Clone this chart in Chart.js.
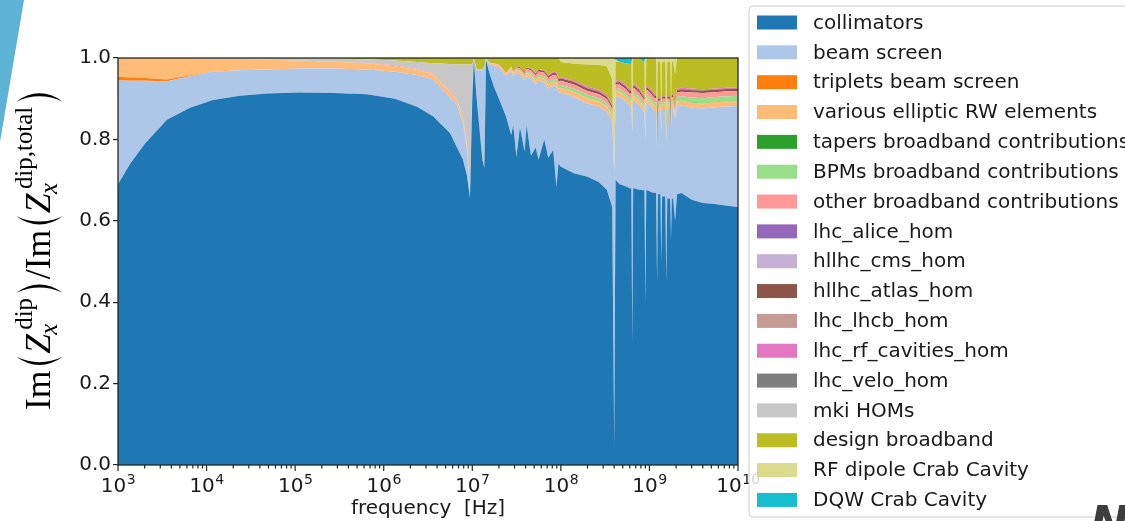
<!DOCTYPE html>
<html>
<head>
<meta charset="utf-8">
<script src="https://cdn.jsdelivr.net/npm/chart.js@4.4.1/dist/chart.umd.min.js"></script>
<style>
  html, body { margin: 0; padding: 0; background: #ffffff; overflow: hidden; }
  canvas { display: block; }
</style>
</head>
<body>
<canvas id="c" width="1125" height="521"></canvas>
<script>
// Frequency samples [Hz]
const freqHz = [
  1.00e3, 1.37e3, 2.02e3, 3.57e3, 6.50e3, 1.18e4, 2.38e4, 4.81e4, 1.13e5, 2.68e5, 6.48e5, 1.34e6, 2.38e6, 3.60e6, 5.60e6, 6.72e6, 7.86e6, 8.72e6, 9.42e6,
  1.00e7, 1.04e7, 1.12e7, 1.30e7, 1.37e7, 1.43e7, 1.55e7, 1.75e7, 2.00e7, 2.40e7, 2.75e7, 2.90e7, 3.15e7, 3.45e7, 3.90e7, 4.10e7, 4.60e7, 5.20e7, 5.60e7, 6.50e7, 7.20e7, 8.20e7, 8.90e7, 9.40e7,
  1.00e8, 1.40e8, 2.00e8, 2.70e8, 3.30e8, 3.80e8, 4.00e8, 4.15e8, 4.60e8, 5.40e8, 6.00e8, 6.25e8, 6.40e8, 6.55e8, 6.70e8, 7.60e8, 8.60e8, 8.78e8, 9.00e8, 9.22e8, 9.50e8,
  1.05e9, 1.15e9, 1.19e9, 1.22e9, 1.25e9, 1.28e9, 1.33e9, 1.36e9, 1.39e9, 1.45e9, 1.51e9, 1.55e9, 1.59e9, 1.65e9, 1.71e9, 1.75e9, 1.79e9, 1.85e9, 1.95e9, 2.05e9, 2.30e9, 3.00e9, 4.00e9, 5.50e9, 7.50e9, 1.00e10
];

// Fraction of Im(Z_x^dip) carried by each element group
const collimators = [
  0.69,0.74,0.79,0.848,0.878,0.897,0.907,0.913,0.915,0.914,0.911,0.90,0.88,0.857,0.816,0.78,0.75,0.71,0.656,
  0.90,0.995,0.90,0.75,0.73,0.995,0.965,0.93,0.90,0.857,0.81,0.835,0.757,0.83,0.77,0.835,0.76,0.78,0.75,0.80,0.755,0.774,0.683,0.74,
  0.733,0.717,0.708,0.695,0.676,0.634,0.05,0.70,0.69,0.685,0.68,0.68,0.30,0.68,0.68,0.676,0.675,0.675,0.40,0.675,0.675,
  0.67,0.668,0.668,0.45,0.665,0.665,0.665,0.50,0.66,0.66,0.66,0.45,0.655,0.655,0.655,0.55,0.655,0.655,0.60,0.665,0.668,0.652,0.644,0.641,0.637,0.634
];
const beamScreen = [
  0.255,0.204,0.154,0.095,0.077,0.069,0.063,0.059,0.059,0.060,0.061,0.066,0.078,0.091,0.088,0.105,0.090,0.064,0.005,
  0.020,0.005,0.070,0.220,0.245,0.005,0.020,0.052,0.077,0.098,0.158,0.120,0.206,0.130,0.175,0.120,0.190,0.155,0.194,0.140,0.170,0.158,0.247,0.175,
  0.182,0.188,0.180,0.185,0.192,0.211,0.670,0.205,0.215,0.208,0.202,0.202,0.520,0.215,0.215,0.209,0.193,0.193,0.400,0.215,0.215,
  0.210,0.202,0.202,0.330,0.205,0.205,0.205,0.320,0.215,0.215,0.215,0.350,0.220,0.220,0.220,0.280,0.222,0.222,0.250,0.217,0.215,0.226,0.232,0.238,0.244,0.248
];
const tripletsBeamScreen = [
  0.009,0.008,0.007,0.004,0.002,0.001,0,0,0,0,0,0,0,0,0,0,0,0,0,
  0,0,0,0,0,0,0,0,0,0,0,0,0,0,0,0,0,0,0,0,0,0,0,0,
  0,0,0,0,0,0,0,0,0,0,0,0,0,0,0,0,0,0,0,0,0,
  0,0,0,0,0,0,0,0,0,0,0,0,0,0,0,0,0,0,0,0,0,0,0,0,0,0
];
const variousEllipticRW = [
  0.046,0.048,0.049,0.053,0.043,0.032,0.028,0.024,0.020,0.017,0.015,0.014,0.013,0.012,0.012,0.011,0.010,0.010,0.008,
  0.005,0,0.003,0.003,0.003,0,0.003,0.004,0.005,0.006,0.006,0.006,0.007,0.007,0.008,0.008,0.008,0.009,0.009,0.009,0.010,0.010,0.010,0.010,
  0.011,0.012,0.013,0.013,0.013,0.013,0.002,0.012,0.012,0.012,0.012,0.012,0.004,0.012,0.012,0.012,0.012,0.012,0.004,0.012,0.012,
  0.012,0.012,0.012,0.005,0.010,0.010,0.010,0.005,0.010,0.010,0.010,0.005,0.010,0.010,0.010,0.006,0.010,0.010,0.008,0.011,0.012,0.012,0.012,0.012,0.012,0.012
];
const tapersBroadband = [
  0,0,0,0,0,0,0,0,0,0,0,0,0,0,0,0,0,0,0,
  0,0,0,0,0,0,0,0,0,0,0,0,0,0,0,0,0,0,0,0,0,0,0,0,
  0,0,0,0,0,0,0,0,0,0,0,0,0,0,0,0,0,0,0,0,0,
  0,0,0,0,0,0,0,0,0,0,0,0,0,0,0,0,0,0,0,0,0,0.001,0.001,0.001,0.001,0.001
];
const bpmsBroadband = [
  0,0,0,0,0,0,0,0,0,0,0,0,0,0,0,0,0,0,0,
  0,0,0,0,0,0,0,0,0,0,0.002,0.002,0.003,0.003,0.004,0.004,0.005,0.005,0.006,0.006,0.007,0.007,0.007,0.008,
  0.008,0.008,0.008,0.008,0.008,0.008,0,0.007,0.008,0.008,0.008,0.008,0,0.008,0.008,0.008,0.008,0.008,0,0.008,0.008,
  0.008,0.008,0.008,0,0.006,0.006,0.006,0,0.006,0.006,0.006,0,0.006,0.006,0.006,0,0.007,0.007,0.005,0.011,0.011,0.012,0.012,0.012,0.012,0.012
];
const otherBroadband = [
  0,0,0,0,0,0,0,0,0,0,0.001,0.002,0.002,0.002,0.002,0.002,0.002,0.002,0.002,
  0.001,0,0,0,0,0,0.001,0.001,0.002,0.002,0.003,0.003,0.004,0.005,0.006,0.006,0.007,0.008,0.008,0.009,0.009,0.010,0.010,0.010,
  0.010,0.010,0.010,0.010,0.010,0.010,0,0.010,0.010,0.011,0.011,0.011,0,0.011,0.011,0.011,0.011,0.011,0,0.011,0.011,
  0.011,0.011,0.011,0,0.009,0.009,0.009,0,0.009,0.009,0.009,0,0.009,0.009,0.009,0,0.010,0.010,0.007,0.011,0.011,0.012,0.013,0.012,0.012,0.012
];
const lhcAliceHom = [
  0,0,0,0,0,0,0,0,0,0,0,0,0,0,0,0,0,0,0,
  0,0,0,0,0,0,0,0,0,0,0,0,0,0,0,0,0,0,0,0,0,0,0,0,
  0,0,0,0,0,0,0,0,0,0,0,0,0,0,0,0,0,0,0,0,0,
  0,0,0,0,0,0,0,0,0,0,0,0,0,0,0,0,0,0,0,0,0,0,0,0,0,0
];
const hllhcCmsHom = [
  0,0,0,0,0,0,0,0,0,0,0,0,0,0,0,0,0,0,0,
  0,0,0,0,0,0,0,0,0,0,0,0,0,0,0,0,0,0,0,0,0,0,0,0,
  0,0,0,0,0,0,0,0,0,0,0,0,0,0,0,0,0,0,0,0,0,
  0,0,0,0,0,0,0,0,0,0,0,0,0,0,0,0,0,0,0,0,0,0,0,0,0,0
];
const hllhcAtlasHom = [
  0,0,0,0,0,0,0,0,0,0,0,0,0,0,0,0,0,0,0,
  0,0,0,0,0,0,0,0,0,0,0,0,0.002,0.002,0.003,0.003,0.003,0.004,0.004,0.004,0.005,0.005,0.005,0.005,
  0.006,0.006,0.006,0.006,0.006,0.006,0,0.006,0.006,0.006,0.006,0.006,0,0.006,0.006,0.006,0.006,0.006,0,0.006,0.006,
  0.006,0.006,0.006,0,0.005,0.005,0.005,0,0.005,0.005,0.005,0,0.005,0.005,0.005,0,0.005,0.005,0.004,0.006,0.006,0.006,0.006,0.006,0.006,0.006
];
const lhcLhcbHom = [
  0,0,0,0,0,0,0,0,0,0,0,0,0,0,0,0,0,0,0,
  0,0,0,0,0,0,0,0,0,0,0,0,0,0,0,0,0,0,0,0,0,0,0,0,
  0,0,0,0,0,0,0,0,0,0,0,0,0,0,0,0,0,0,0,0,0,
  0,0,0,0,0,0,0,0,0,0,0,0,0,0,0,0,0,0,0,0,0,0,0,0,0,0
];
const lhcRfCavitiesHom = [
  0,0,0,0,0,0,0,0,0,0,0,0,0,0,0,0,0,0,0,
  0,0,0,0,0,0,0,0,0,0.001,0,0,0,0.001,0.001,0.001,0.002,0.002,0.002,0.002,0.002,0.003,0.003,0.003,
  0.003,0.004,0.005,0.005,0.005,0.005,0,0.005,0.005,0.005,0.005,0.005,0,0.005,0.005,0.005,0.005,0.005,0,0.005,0.005,
  0.005,0.005,0.005,0,0.004,0.004,0.004,0,0.004,0.004,0.004,0,0.004,0.004,0.004,0,0.004,0.004,0.003,0.004,0.004,0.004,0.003,0.003,0.003,0.003
];
const lhcVeloHom = [
  0,0,0,0,0,0,0,0,0,0,0,0,0,0,0,0,0,0,0,
  0,0,0,0,0,0,0,0,0,0,0,0,0,0,0,0,0,0,0,0,0,0,0,0,
  0,0,0,0,0,0,0,0,0,0,0,0,0,0,0,0,0,0,0,0,0,
  0,0,0,0,0,0,0,0,0,0,0,0,0,0,0,0,0,0,0,0,0,0,0,0,0,0
];
const mkiHoms = [
  0,0,0,0,0,0.001,0.002,0.004,0.006,0.008,0.009,0.012,0.017,0.025,0.067,0.086,0.132,0.198,0.313,
  0.058,0,0,0,0,0,0,0,0,0,0,0,0,0,0,0,0,0,0,0,0,0,0,0,
  0,0,0,0,0,0,0,0,0,0,0,0,0,0,0,0,0,0,0,0,0,
  0,0,0,0,0,0,0,0,0,0,0,0,0,0,0,0,0,0,0,0,0,0,0,0,0,0
];
const designBroadband = [
  0,0,0,0,0,0,0,0,0,0.001,0.003,0.006,0.010,0.013,0.015,0.016,0.016,0.016,0.016,
  0.016,0,0.027,0.027,0.022,0,0.011,0.013,0.016,0.036,0.021,0.034,0.021,0.022,0.033,0.023,0.025,0.037,0.027,0.030,0.042,0.033,0.035,0.049,
  0.037,0.041,0.054,0.061,0.070,0.060,0,0.045,0.044,0.052,0.061,0.061,0.016,0.063,0.063,0.073,0.080,0.080,0.016,0.068,0.068,
  0.078,0.088,0.088,0.025,0.086,0.086,0.086,0.035,0.081,0.081,0.081,0.035,0.081,0.081,0.081,0.044,0.077,0.077,0.083,0.075,0.073,0.075,0.077,0.075,0.073,0.072
];
const rfDipoleCrab = [
  0,0,0,0,0,0,0,0,0,0,0,0,0,0,0,0,0,0,0,
  0,0,0,0,0,0,0,0,0,0,0,0,0,0,0,0,0,0,0,0,0,0,0,0,
  0.010,0.014,0.016,0.017,0.020,0.053,0.278,0.005,0,0,0,0,0.160,0,0,0,0,0,0.180,0,0,
  0,0,0,0.190,0.010,0.010,0.010,0.140,0.010,0.010,0.010,0.160,0.010,0.010,0.010,0.120,0.010,0.010,0.040,0,0,0,0,0,0,0
];
const dqwCrab = [
  0,0,0,0,0,0,0,0,0,0,0,0,0,0,0,0,0,0,0,
  0,0,0,0,0,0,0,0,0,0,0,0,0,0,0,0,0,0,0,0,0,0,0,0,
  0,0,0,0,0,0,0,0.005,0.010,0.013,0.015,0.015,0,0,0,0,0.010,0.010,0,0,0,
  0,0,0,0,0,0,0,0,0,0,0,0,0,0,0,0,0,0,0,0,0,0,0,0,0,0
];

const seriesNames = [
  'collimators', 'beam screen', 'triplets beam screen', 'various elliptic RW elements',
  'tapers broadband contributions', 'BPMs broadband contributions', 'other broadband contributions',
  'lhc_alice_hom', 'hllhc_cms_hom', 'hllhc_atlas_hom', 'lhc_lhcb_hom', 'lhc_rf_cavities_hom',
  'lhc_velo_hom', 'mki HOMs', 'design broadband', 'RF dipole Crab Cavity', 'DQW Crab Cavity'
];
const seriesValues = [
  collimators, beamScreen, tripletsBeamScreen, variousEllipticRW, tapersBroadband, bpmsBroadband,
  otherBroadband, lhcAliceHom, hllhcCmsHom, hllhcAtlasHom, lhcLhcbHom, lhcRfCavitiesHom,
  lhcVeloHom, mkiHoms, designBroadband, rfDipoleCrab, dqwCrab
];
const seriesColors = [
  '#1f77b4', '#aec7e8', '#ff7f0e', '#ffbb78', '#2ca02c', '#98df8a', '#ff9896', '#9467bd', '#c5b0d5',
  '#8c564b', '#c49c94', '#e377c2', '#7f7f7f', '#c7c7c7', '#bcbd22', '#dbdb8d', '#17becf'
];
const xTickExponents = [3, 4, 5, 6, 7, 8, 9, 10];
const yTickValues = [0, 0.2, 0.4, 0.6, 0.8, 1.0];
const xTitle = 'frequency  [Hz]';

const SANS = '"DejaVu Sans", sans-serif';
const SERIF = '"Liberation Serif", "DejaVu Serif", serif';
const INK = '#1a1a1a';
const SPINE = '#262626';

function paren(ctx, u, w, top, bottom, open) {
  // crescent-shaped delimiter spanning [top, bottom]
  const mid = (top + bottom) / 2;
  const edge = open ? u + w : u;
  const bulge = open ? u - w * 0.55 : u + w * 1.55;
  const thick = open ? w * 0.55 : -w * 0.55;
  ctx.beginPath();
  ctx.moveTo(edge, top);
  ctx.quadraticCurveTo(bulge, mid, edge, bottom);
  ctx.quadraticCurveTo(bulge + thick, mid, edge, top);
  ctx.closePath();
  ctx.fill();
}

function drawYTitle(ctx) {
  const F = 30, S = 21;
  const fMain = F + 'px ' + SERIF, fItal = 'italic ' + F + 'px ' + SERIF;
  const fScr = S + 'px ' + SERIF, fScrI = 'italic ' + S + 'px ' + SERIF;
  const parts = [
    { t: 'Im', f: fMain }, { p: '(' }, { t: 'Z', f: fItal }, { sup: 'dip', sub: 'x' }, { p: ')' },
    { t: '/', f: fMain }, { t: 'Im', f: fMain }, { p: '(' }, { t: 'Z', f: fItal },
    { sup: 'dip,total', sub: 'x' }, { p: ')' }
  ];
  const pw = 9, pgap = 2.5;
  ctx.save();
  let W = 0;
  for (const q of parts) {
    if (q.t) { ctx.font = q.f; q.w = ctx.measureText(q.t).width; }
    else if (q.p) { q.w = pw + 2 * pgap; }
    else {
      ctx.font = fScr; const a = ctx.measureText(q.sup).width + 0.12 * F;
      ctx.font = fScrI; const b = ctx.measureText(q.sub).width - 0.02 * F;
      q.w = Math.max(a, b) + 0.06 * F;
    }
    W += q.w;
  }
  const k = 322 / W;
  ctx.translate(50, 410);
  ctx.rotate(-Math.PI / 2);
  ctx.scale(k, k);
  ctx.fillStyle = '#000000';
  ctx.textBaseline = 'alphabetic';
  let u = 0;
  for (const q of parts) {
    if (q.t) { ctx.font = q.f; ctx.fillText(q.t, u, 0); }
    else if (q.p) { paren(ctx, u + pgap, pw, -0.95 * F, 0.36 * F, q.p === '('); }
    else {
      ctx.font = fScr; ctx.fillText(q.sup, u + 0.12 * F, -0.5 * F);
      ctx.font = fScrI; ctx.fillText(q.sub, u - 0.02 * F, 0.2 * F);
    }
    u += q.w;
  }
  ctx.restore();
}

const decor = {
  id: 'decor',
  beforeDraw(chart) {
    const ctx = chart.ctx;
    ctx.save();
    ctx.fillStyle = '#ffffff';
    ctx.fillRect(0, 0, chart.width, chart.height);
    ctx.fillStyle = '#5cb3d6';
    ctx.beginPath();
    ctx.moveTo(0, 0); ctx.lineTo(24, 0); ctx.lineTo(0, 142); ctx.closePath();
    ctx.fill();
    ctx.restore();
  },
  afterDatasetsDraw(chart) {
    const ctx = chart.ctx, a = chart.chartArea, xs = chart.scales.x;
    ctx.save();
    // frame
    ctx.strokeStyle = SPINE; ctx.lineWidth = 1.3;
    ctx.strokeRect(a.left, a.top, a.right - a.left, a.bottom - a.top);
    // x ticks: decades and minor subdivisions
    ctx.lineWidth = 1.2;
    ctx.beginPath();
    for (const e of xTickExponents) {
      const px = xs.getPixelForValue(Math.pow(10, e));
      ctx.moveTo(px, a.bottom); ctx.lineTo(px, a.bottom + 6);
    }
    for (let i = 0; i < xTickExponents.length - 1; i++) {
      for (let m = 2; m <= 9; m++) {
        const px = xs.getPixelForValue(m * Math.pow(10, xTickExponents[i]));
        ctx.moveTo(px, a.bottom); ctx.lineTo(px, a.bottom + 3.5);
      }
    }
    ctx.stroke();
    // x tick labels 10^n
    ctx.fillStyle = INK;
    ctx.textBaseline = 'alphabetic';
    ctx.textAlign = 'left';
    for (const e of xTickExponents) {
      const px = xs.getPixelForValue(Math.pow(10, e));
      ctx.font = '20px ' + SANS; const wb = ctx.measureText('10').width;
      ctx.font = '14px ' + SANS; const we = ctx.measureText(String(e)).width;
      const x0 = px - (wb + we) / 2;
      ctx.font = '20px ' + SANS; ctx.fillText('10', x0, 492);
      ctx.font = '14px ' + SANS; ctx.fillText(String(e), x0 + wb + 0.5, 484);
    }
    ctx.restore();
    drawYTitle(ctx);
  },
  afterDraw(chart) {
    const ctx = chart.ctx;
    ctx.save();
    // legend box
    const lx = 749, ly = 6, lw = 420, lh = 511, r = 4;
    ctx.beginPath();
    ctx.moveTo(lx + r, ly); ctx.lineTo(lx + lw, ly); ctx.lineTo(lx + lw, ly + lh);
    ctx.lineTo(lx + r, ly + lh); ctx.quadraticCurveTo(lx, ly + lh, lx, ly + lh - r);
    ctx.lineTo(lx, ly + r); ctx.quadraticCurveTo(lx, ly, lx + r, ly);
    ctx.closePath();
    ctx.fillStyle = 'rgba(255,255,255,0.8)';
    ctx.fill();
    ctx.strokeStyle = '#cccccc'; ctx.lineWidth = 1;
    ctx.stroke();
    ctx.font = '20px ' + SANS;
    ctx.textBaseline = 'middle';
    ctx.textAlign = 'left';
    chart.data.datasets.forEach((ds, i) => {
      const cy = 22.5 + i * 29.84;
      ctx.fillStyle = ds.backgroundColor;
      ctx.fillRect(757, cy - 7, 40, 14);
      ctx.fillStyle = INK;
      ctx.fillText(ds.label, 813, cy + 1);
    });
    // corner emblem
    ctx.font = 'italic bold 46px ' + SANS;
    ctx.fillStyle = '#3d3d3d';
    ctx.textBaseline = 'alphabetic';
    ctx.fillText('N', 1090, 539);
    ctx.restore();
  }
};

const datasets = seriesValues.map((vals, i) => ({
  label: seriesNames[i],
  data: freqHz.map((f, j) => ({ x: f, y: vals[j] })),
  backgroundColor: seriesColors[i],
  borderColor: 'rgba(0,0,0,0)',
  borderWidth: 0,
  pointRadius: 0,
  pointHoverRadius: 0,
  tension: 0,
  fill: i === 0 ? 'origin' : '-1',
  stack: 'all'
}));

new Chart(document.getElementById('c'), {
  type: 'line',
  data: { datasets },
  options: {
    responsive: false,
    animation: false,
    devicePixelRatio: 1,
    events: [],
    layout: { padding: { top: 58, right: 387, bottom: 0, left: 0 } },
    plugins: { legend: { display: false }, tooltip: { enabled: false } },
    scales: {
      x: {
        type: 'logarithmic',
        min: 1e3, max: 1e10,
        afterBuildTicks: s => { s.ticks = xTickExponents.map(e => ({ value: Math.pow(10, e) })); },
        afterFit: s => { s.height = 56; },
        ticks: { display: false },
        grid: { display: false },
        border: { display: false },
        title: {
          display: true, text: xTitle, color: INK,
          font: { family: 'DejaVu Sans', size: 20 }, padding: { top: 0, bottom: 0 }
        }
      },
      y: {
        stacked: true,
        min: 0, max: 1,
        afterBuildTicks: s => { s.ticks = yTickValues.map(v => ({ value: v })); },
        afterFit: s => { s.width = 118; },
        ticks: {
          callback: v => Number(v).toFixed(1),
          color: INK, padding: 2,
          font: { family: 'DejaVu Sans', size: 20 }
        },
        grid: { drawOnChartArea: false, tickLength: 5, color: SPINE, lineWidth: 1.2 },
        border: { display: false }
      }
    }
  },
  plugins: [decor]
});
</script>
</body>
</html>
